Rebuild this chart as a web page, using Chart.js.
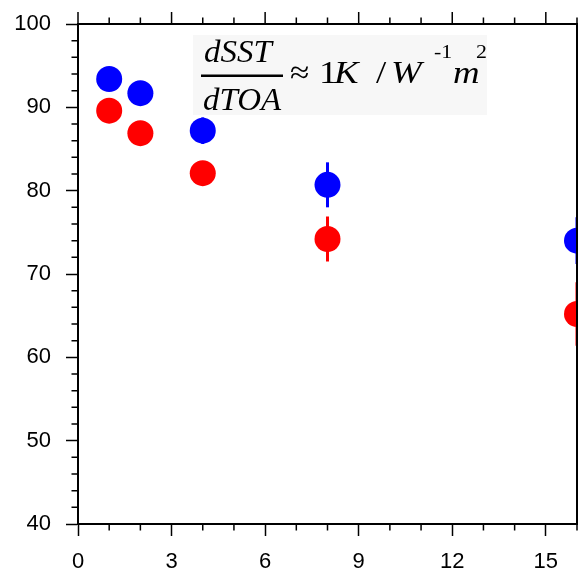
<!DOCTYPE html>
<html>
<head>
<meta charset="utf-8">
<script src="https://cdn.jsdelivr.net/npm/chart.js@4.4.1/dist/chart.umd.min.js"></script>
<style>
  html, body { margin: 0; padding: 0; background: #fff; overflow: hidden; }
  canvas { display: block; }
</style>
</head>
<body>
<canvas id="chart" width="578" height="577"></canvas>
<script>
// data
const xValues = [1, 2, 4, 8, 16];
const blueValues = [93.4, 91.7, 87.2, 80.7, 74.0];
const blueErrors = [0.8, 0.8, 1.6, 2.7, 2.8];
const redValues = [89.6, 86.9, 82.1, 74.2, 65.2];
const redErrors = [0.8, 0.8, 0.8, 2.7, 3.8];
const xTicks = [0, 3, 6, 9, 12, 15];
const yTicks = [40, 50, 60, 70, 80, 90, 100];

const BLUE = '#0000ff';
const RED = '#ff0000';
const FONT = "'Liberation Sans', Arial, Helvetica, sans-serif";
const SERIF = "'Liberation Serif', 'Times New Roman', serif";

const toPoints = (vals) => xValues.map((x, i) => ({ x: x, y: vals[i] }));

// error bars, drawn under the markers
const errorBars = {
  id: 'errorBars',
  beforeDatasetsDraw(chart) {
    const { ctx, chartArea, scales: { x, y } } = chart;
    const sets = [[blueValues, blueErrors, BLUE], [redValues, redErrors, RED]];
    ctx.save();
    ctx.beginPath();
    ctx.rect(chartArea.left, chartArea.top, chartArea.right - chartArea.left, chartArea.bottom - chartArea.top);
    ctx.clip();
    ctx.lineWidth = 3;
    sets.forEach(([vals, errs, color]) => {
      ctx.strokeStyle = color;
      xValues.forEach((xv, i) => {
        const px = x.getPixelForValue(xv);
        ctx.beginPath();
        ctx.moveTo(px, y.getPixelForValue(vals[i] + errs[i]));
        ctx.lineTo(px, y.getPixelForValue(vals[i] - errs[i]));
        ctx.stroke();
      });
    });
    ctx.restore();
  }
};

// text drawn a little wider than the font, like the pasted picture
function glyph(ctx, text, x, base, font, sx) {
  ctx.save();
  ctx.translate(x, base);
  ctx.scale(sx, 1);
  ctx.font = font;
  ctx.fillText(text, 0, 0);
  ctx.restore();
}

// the pasted equation box
const equation = {
  id: 'equation',
  beforeDatasetsDraw(chart) {
    const ctx = chart.ctx;
    const it = 'italic 32px ' + SERIF;
    const up = '32px ' + SERIF;
    const sup = '19px ' + SERIF;
    ctx.save();
    ctx.fillStyle = '#f7f7f7';
    ctx.fillRect(193, 35, 294, 80);
    ctx.fillStyle = '#000';
    ctx.textBaseline = 'alphabetic';
    ctx.textAlign = 'left';
    glyph(ctx, 'dSST', 204, 62, it, 1.03);
    glyph(ctx, 'dTOA', 203, 110, it, 1.03);
    ctx.fillRect(201, 74.5, 82, 2.5);
    glyph(ctx, '\u2248', 290, 83, up, 1.1);
    glyph(ctx, '1', 319, 83, up, 1.15);
    glyph(ctx, 'K', 334, 83, it, 1.15);
    glyph(ctx, '/', 376, 83, up, 1.15);
    glyph(ctx, 'W', 391, 83, it, 1.15);
    glyph(ctx, '-1', 434, 58, sup, 1.15);
    glyph(ctx, 'm', 453, 83, it, 1.15);
    glyph(ctx, '2', 476, 58, sup, 1.15);
    ctx.restore();
  }
};

// frame: top/right borders and minor ticks
const frame = {
  id: 'frame',
  afterDatasetsDraw(chart) {
    const { ctx, chartArea: a, scales: { x, y } } = chart;
    ctx.save();
    ctx.strokeStyle = '#000';
    ctx.lineWidth = 2;
    ctx.beginPath();
    ctx.moveTo(a.left, a.top);
    ctx.lineTo(a.right, a.top);
    ctx.lineTo(a.right, a.bottom);
    ctx.stroke();
    ctx.lineWidth = 1.5;
    ctx.beginPath();
    for (let v = 0; v <= 16; v++) {
      const px = x.getPixelForValue(v);
      const len = v % 3 === 0 ? 12 : 6.5;
      ctx.moveTo(px, a.top);
      ctx.lineTo(px, a.top - len);
      if (v % 3 !== 0) {
        ctx.moveTo(px, a.bottom);
        ctx.lineTo(px, a.bottom + len);
      }
    }
    for (let v = 40; v <= 100; v += 2) {
      if (v % 10 === 0) continue;
      const py = y.getPixelForValue(v);
      ctx.moveTo(a.left, py);
      ctx.lineTo(a.left - 6.5, py);
    }
    ctx.stroke();
    ctx.restore();
  }
};

document.addEventListener('DOMContentLoaded', () => {
  const ctx = document.getElementById('chart').getContext('2d');
  new Chart(ctx, {
    type: 'scatter',
    data: {
      datasets: [
        { label: 'blue', data: toPoints(blueValues), backgroundColor: BLUE, borderWidth: 0, pointRadius: 13, pointHoverRadius: 13, clip: 0 },
        { label: 'red', data: toPoints(redValues), backgroundColor: RED, borderWidth: 0, pointRadius: 13, pointHoverRadius: 13, clip: 0 }
      ]
    },
    options: {
      responsive: false,
      animation: false,
      events: [],
      devicePixelRatio: 1,
      layout: { autoPadding: false, padding: { top: 24, right: 1, left: 0, bottom: 0 } },
      plugins: { legend: { display: false }, tooltip: { enabled: false } },
      scales: {
        x: {
          type: 'linear',
          min: 0,
          max: 16,
          afterBuildTicks: (s) => { s.ticks = xTicks.map(v => ({ value: v })); },
          afterFit: (s) => { s.height = 53; s.paddingLeft = 0; s.paddingRight = 0; },
          ticks: { color: '#000', font: { family: FONT, size: 22 }, padding: 13, maxRotation: 0 },
          grid: { drawOnChartArea: false, drawTicks: true, tickLength: 12, tickWidth: 1.5, tickColor: '#000' },
          border: { display: true, color: '#000', width: 2 }
        },
        y: {
          type: 'linear',
          min: 40,
          max: 100,
          afterBuildTicks: (s) => { s.ticks = yTicks.map(v => ({ value: v })); },
          afterFit: (s) => { s.width = 78; s.paddingTop = 0; s.paddingBottom = 0; },
          ticks: { color: '#000', font: { family: FONT, size: 22 }, padding: 15 },
          grid: { drawOnChartArea: false, drawTicks: true, tickLength: 12, tickWidth: 1.5, tickColor: '#000' },
          border: { display: true, color: '#000', width: 2 }
        }
      }
    },
    plugins: [errorBars, equation, frame]
  });
});
</script>
</body>
</html>
